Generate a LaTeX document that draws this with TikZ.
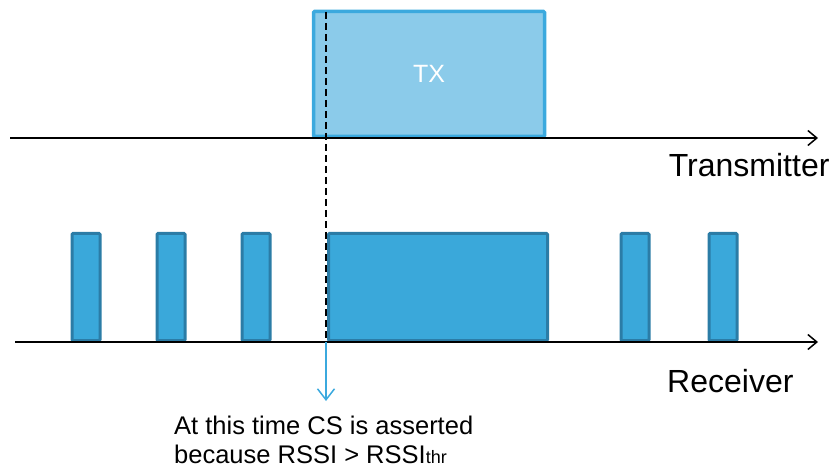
\documentclass[tikz,border=0pt]{standalone}
\usepackage{fontspec}
\setmainfont{Liberation Sans}
\usetikzlibrary{arrows.meta}
\definecolor{txfill}{HTML}{8BCBEA}
\definecolor{txline}{HTML}{3BA9DE}
\definecolor{rxfill}{HTML}{3AA8DA}
\definecolor{rxline}{HTML}{2B7CA6}
\begin{document}
\begin{tikzpicture}[x=1pt,y=-1pt,
    axis/.style={line width=1.5pt,-{Straight Barb[length=9pt,width=15pt,line width=1.5pt]}},
    txbox/.style={draw=txline,fill=txfill,line width=3.5pt,rounded corners=1pt,inner sep=0pt},
    rxbox/.style={draw=rxline,fill=rxfill,line width=3pt,rounded corners=1pt,inner sep=0pt,minimum height=107pt},
    label/.style={font=\fontsize{32}{32}\selectfont,anchor=base east}]
    \useasboundingbox (0,0) rectangle (837,470);
    % time axes
    \coordinate (t0) at (10,138);  \coordinate (t1) at (818,138);
    \coordinate (r0) at (15,342);  \coordinate (r1) at (818,342);
    % transmitter burst
    \node[txbox,minimum width=231pt,minimum height=125pt,text=white,font=\fontsize{25}{25}\selectfont] (tx) at (429,74) {TX};
    % receiver sniff windows and the long receive
    \foreach \xx/\nm in {86/a,171/b,256/c,635/d,723/e}
        \node[rxbox,minimum width=28pt] (rx\nm) at (\xx,287) {};
    \node[rxbox,minimum width=219pt] (rxlong) at (438,287) {};
    \draw[axis] (t0) -- (t1);
    \draw[axis] (r0) -- (r1);
    \node[label] (txlabel) at (833,177) {Transmitter};
    \node[label] (rxlabel) at (797,392) {Receiver};
    % carrier sense instant
    \coordinate (cs0) at (326,12);
    \coordinate (cs1) at (326,342);
    \coordinate (cs2) at (326,401);
    \draw[line width=1.5pt,dash pattern=on 7pt off 4pt] (cs0) -- (cs1);
    \draw[txline,line width=1.5pt,-{Straight Barb[length=11pt,width=17pt,line width=1.5pt]}] (cs1) -- (cs2);
    \node[anchor=base west,align=left,inner sep=0pt,font=\fontsize{25.5}{29}\selectfont] (note) at (174,463)
        {At this time CS is asserted\\because RSSI > RSSI{\fontsize{18}{18}\selectfont thr}};
\end{tikzpicture}
\end{document}
